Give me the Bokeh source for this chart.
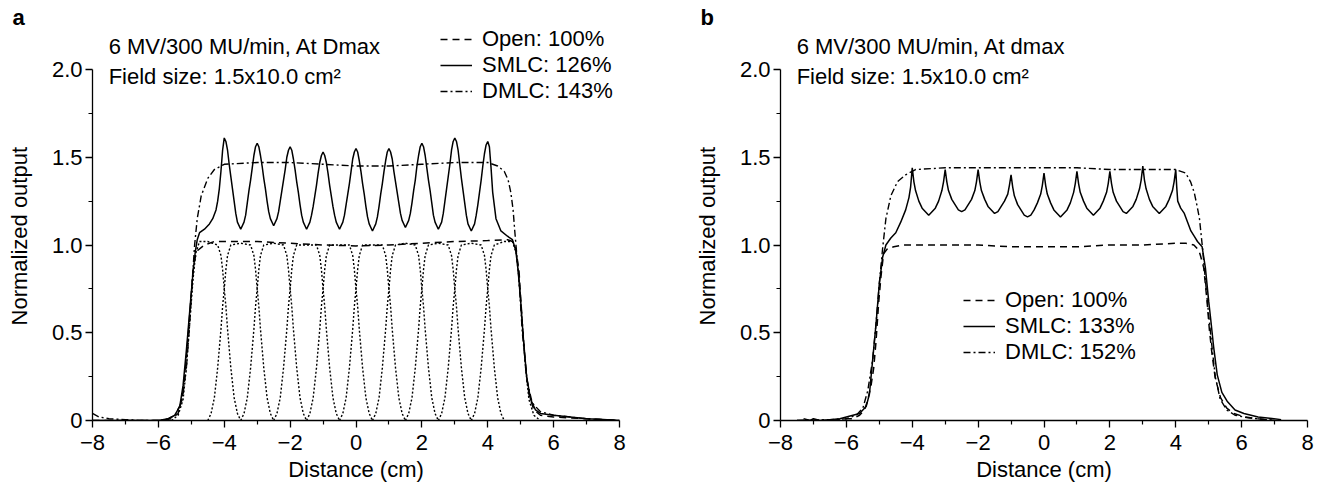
from bokeh.plotting import figure
from bokeh.models import Range1d, FixedTicker, Label, Legend, LegendItem
from bokeh.layouts import row
from bokeh.embed import file_html
from bokeh.resources import INLINE

FONT = "Liberation Sans"

# ---------------- axis ticks ----------------
X_TICKS = [-8, -6, -4, -2, 0, 2, 4, 6, 8]
X_MINOR = [-7, -5, -3, -1, 1, 3, 5, 7]
X_LABELS = ["\u22128", "\u22126", "\u22124", "\u22122", "0", "2", "4", "6", "8"]
Y_TICKS = [0, 0.5, 1.0, 1.5, 2.0]
Y_MINOR = [0.25, 0.75, 1.25, 1.75]
Y_LABELS = ["0", "0.5", "1.0", "1.5", "2.0"]

# ---------------- panel a ----------------
A_OPEN_X = [-8, -7, -6, -5.6, -5.4, -5.25, -5.15, -5.05, -4.95, -4.88,
            -4.8, -4.6, -4.3, -4, -3, -2, -1, 0, 1, 2,
            3, 4, 4.6, 4.75, 4.85, 4.95, 5.05, 5.15, 5.25, 5.4,
            5.6, 6, 7, 8]
A_OPEN_Y = [0, 0, 0, 0.01, 0.04, 0.15, 0.35, 0.6, 0.85, 0.93,
            0.97, 1.0, 1.02, 1.02, 1.02, 1.01, 1.0, 0.995, 1.0, 1.01,
            1.02, 1.025, 1.03, 1.02, 0.98, 0.85, 0.55, 0.3, 0.15, 0.06,
            0.03, 0.02, 0.01, 0]

A_SMLC_X = [-8, -7, -6.5, -6, -5.7, -5.5, -5.35, -5.25, -5.15, -5.05,
            -4.95, -4.88, -4.82, -4.75, -4.6, -4.45, -4.35, -4.25, -4.2, -4.15,
            -4.1, -4.05, -4,
            -3.95, -3.9, -3.85, -3.8, -3.75, -3.7, -3.65, -3.6, -3.5, -3.4, -3.35, -3.3, -3.25, -3.2, -3.15, -3.1, -3.05, -3,
            -2.95, -2.9, -2.85, -2.8, -2.75, -2.7, -2.65, -2.6, -2.5, -2.4, -2.35, -2.3, -2.25, -2.2, -2.15, -2.1, -2.05, -2,
            -1.95, -1.9, -1.85, -1.8, -1.75, -1.7, -1.65, -1.6, -1.5, -1.4, -1.35, -1.3, -1.25, -1.2, -1.15, -1.1, -1.05, -1,
            -0.95, -0.9, -0.85, -0.8, -0.75, -0.7, -0.65, -0.6, -0.5, -0.4, -0.35, -0.3, -0.25, -0.2, -0.15, -0.1, -0.05, 0,
            0.05, 0.1, 0.15, 0.2, 0.25, 0.3, 0.35, 0.4, 0.5, 0.6, 0.65, 0.7, 0.75, 0.8, 0.85, 0.9, 0.95, 1,
            1.05, 1.1, 1.15, 1.2, 1.25, 1.3, 1.35, 1.4, 1.5, 1.6, 1.65, 1.7, 1.75, 1.8, 1.85, 1.9, 1.95, 2,
            2.05, 2.1, 2.15, 2.2, 2.25, 2.3, 2.35, 2.4, 2.5, 2.6, 2.65, 2.7, 2.75, 2.8, 2.85, 2.9, 2.95, 3,
            3.05, 3.1, 3.15, 3.2, 3.25, 3.3, 3.35, 3.4, 3.5, 3.6, 3.65, 3.7, 3.75, 3.8, 3.85, 3.9, 3.95, 4,
            4.05, 4.1, 4.15, 4.25, 4.4, 4.6, 4.75, 4.85, 4.92, 5.0,
            5.08, 5.18, 5.3, 5.45, 5.6, 6, 6.5, 7, 7.5, 8]
A_SMLC_Y = [0, 0, 0, 0, 0.01, 0.03, 0.08, 0.2, 0.4, 0.62,
            0.84, 0.96, 1.03, 1.07, 1.09, 1.12, 1.15, 1.2, 1.25, 1.32,
            1.42, 1.54, 1.61,
            1.59, 1.54, 1.46, 1.39, 1.32, 1.25, 1.18, 1.13, 1.09, 1.13, 1.17, 1.24, 1.31, 1.37, 1.44, 1.51, 1.56, 1.58,
            1.56, 1.51, 1.45, 1.38, 1.32, 1.25, 1.19, 1.15, 1.11, 1.15, 1.19, 1.25, 1.31, 1.37, 1.43, 1.50, 1.54, 1.56,
            1.54, 1.49, 1.43, 1.36, 1.30, 1.23, 1.17, 1.13, 1.09, 1.13, 1.17, 1.22, 1.28, 1.34, 1.41, 1.47, 1.51, 1.53,
            1.51, 1.47, 1.41, 1.34, 1.28, 1.22, 1.17, 1.13, 1.09, 1.13, 1.17, 1.23, 1.29, 1.35, 1.42, 1.49, 1.53, 1.55,
            1.53, 1.48, 1.42, 1.35, 1.29, 1.22, 1.16, 1.12, 1.08, 1.12, 1.16, 1.22, 1.29, 1.35, 1.42, 1.48, 1.53, 1.55,
            1.53, 1.49, 1.42, 1.36, 1.30, 1.24, 1.18, 1.14, 1.10, 1.14, 1.18, 1.24, 1.31, 1.37, 1.45, 1.51, 1.56, 1.58,
            1.56, 1.51, 1.44, 1.37, 1.31, 1.24, 1.17, 1.13, 1.09, 1.13, 1.18, 1.25, 1.32, 1.39, 1.46, 1.54, 1.59, 1.61,
            1.59, 1.54, 1.46, 1.38, 1.31, 1.24, 1.17, 1.12, 1.08, 1.12, 1.17, 1.23, 1.30, 1.37, 1.45, 1.52, 1.57, 1.59,
            1.56, 1.44, 1.30, 1.15, 1.08, 1.05, 1.03, 0.97, 0.86, 0.68,
            0.47, 0.25, 0.12, 0.06, 0.04, 0.03, 0.02, 0.01, 0.005, 0]

A_DMLC_X = [-8, -7.8, -7.5, -7, -6.5, -6, -5.7, -5.5, -5.3, -5.15,
            -5.05, -4.97, -4.9, -4.82, -4.7, -4.5, -4.3, -4, -3, -2,
            -1, 0, 1, 2, 3, 4, 4.3, 4.5, 4.62, 4.7,
            4.77, 4.82, 4.88, 4.95, 5.05, 5.2, 5.35, 5.6, 6, 7,
            8]
A_DMLC_Y = [0.04, 0.02, 0.01, 0.005, 0, 0, 0.01, 0.03, 0.1, 0.3,
            0.55, 0.8, 1.0, 1.15, 1.28, 1.38, 1.43, 1.46, 1.47, 1.47,
            1.46, 1.45, 1.45, 1.46, 1.47, 1.47, 1.45, 1.42, 1.37, 1.3,
            1.2, 1.08, 0.95, 0.8, 0.5, 0.22, 0.1, 0.05, 0.03, 0.01,
            0]

# individual 1 cm segment profiles (dotted)
A_SEG_X = [
    [-5.6, -5.4, -5.25, -5.15, -5.05, -4.95, -4.87, -4.75, -4.5, -4.2, -4.1, -4.05, -4, -3.95, -3.9, -3.8, -3.7, -3.6, -3.5],
    [-4.5, -4.4, -4.3, -4.2, -4.1, -4.05, -4, -3.95, -3.9, -3.8, -3.5, -3.2, -3.1, -3.05, -3, -2.95, -2.9, -2.8, -2.7, -2.6, -2.5],
    [-3.5, -3.4, -3.3, -3.2, -3.1, -3.05, -3, -2.95, -2.9, -2.8, -2.5, -2.2, -2.1, -2.05, -2, -1.95, -1.9, -1.8, -1.7, -1.6, -1.5],
    [-2.5, -2.4, -2.3, -2.2, -2.1, -2.05, -2, -1.95, -1.9, -1.8, -1.5, -1.2, -1.1, -1.05, -1, -0.95, -0.9, -0.8, -0.7, -0.6, -0.5],
    [-1.5, -1.4, -1.3, -1.2, -1.1, -1.05, -1, -0.95, -0.9, -0.8, -0.5, -0.2, -0.1, -0.05, 0, 0.05, 0.1, 0.2, 0.3, 0.4, 0.5],
    [-0.5, -0.4, -0.3, -0.2, -0.1, -0.05, 0, 0.05, 0.1, 0.2, 0.5, 0.8, 0.9, 0.95, 1, 1.05, 1.1, 1.2, 1.3, 1.4, 1.5],
    [0.5, 0.6, 0.7, 0.8, 0.9, 0.95, 1, 1.05, 1.1, 1.2, 1.5, 1.8, 1.9, 1.95, 2, 2.05, 2.1, 2.2, 2.3, 2.4, 2.5],
    [1.5, 1.6, 1.7, 1.8, 1.9, 1.95, 2, 2.05, 2.1, 2.2, 2.5, 2.8, 2.9, 2.95, 3, 3.05, 3.1, 3.2, 3.3, 3.4, 3.5],
    [2.5, 2.6, 2.7, 2.8, 2.9, 2.95, 3, 3.05, 3.1, 3.2, 3.5, 3.8, 3.9, 3.95, 4, 4.05, 4.1, 4.2, 4.3, 4.4, 4.5],
    [3.5, 3.6, 3.7, 3.8, 3.9, 3.95, 4, 4.05, 4.1, 4.2, 4.5, 4.75, 4.87, 4.95, 5.05, 5.15, 5.25, 5.4, 5.6],
]
A_SEG_Y = [
    [0, 0.03, 0.12, 0.3, 0.55, 0.8, 0.95, 1.02, 1.02, 1.0, 0.94, 0.86, 0.75, 0.65, 0.52, 0.3, 0.13, 0.04, 0],
    [0, 0.04, 0.13, 0.3, 0.52, 0.65, 0.75, 0.86, 0.94, 1.0, 1.01, 1.0, 0.94, 0.86, 0.75, 0.65, 0.52, 0.3, 0.13, 0.04, 0],
    [0, 0.04, 0.13, 0.3, 0.52, 0.65, 0.75, 0.86, 0.94, 1.0, 1.01, 1.0, 0.94, 0.86, 0.75, 0.65, 0.52, 0.3, 0.13, 0.04, 0],
    [0, 0.04, 0.13, 0.3, 0.52, 0.65, 0.75, 0.86, 0.94, 1.0, 1.0, 1.0, 0.94, 0.86, 0.75, 0.65, 0.52, 0.3, 0.13, 0.04, 0],
    [0, 0.04, 0.13, 0.3, 0.52, 0.65, 0.75, 0.86, 0.94, 1.0, 1.0, 1.0, 0.94, 0.86, 0.75, 0.65, 0.52, 0.3, 0.13, 0.04, 0],
    [0, 0.04, 0.13, 0.3, 0.52, 0.65, 0.75, 0.86, 0.94, 1.0, 1.0, 1.0, 0.94, 0.86, 0.75, 0.65, 0.52, 0.3, 0.13, 0.04, 0],
    [0, 0.04, 0.13, 0.3, 0.52, 0.65, 0.75, 0.86, 0.94, 1.0, 1.01, 1.0, 0.94, 0.86, 0.75, 0.65, 0.52, 0.3, 0.13, 0.04, 0],
    [0, 0.04, 0.13, 0.3, 0.52, 0.65, 0.75, 0.86, 0.94, 1.0, 1.01, 1.0, 0.94, 0.86, 0.75, 0.65, 0.52, 0.3, 0.13, 0.04, 0],
    [0, 0.04, 0.13, 0.3, 0.52, 0.65, 0.75, 0.86, 0.94, 1.0, 1.01, 1.0, 0.94, 0.86, 0.75, 0.65, 0.52, 0.3, 0.13, 0.04, 0],
    [0, 0.04, 0.13, 0.3, 0.52, 0.65, 0.75, 0.86, 0.94, 1.0, 1.02, 1.02, 0.95, 0.8, 0.55, 0.3, 0.12, 0.03, 0],
]

# ---------------- panel b ----------------
B_OPEN_X = [-7.5, -6.5, -6, -5.8, -5.6, -5.45, -5.36, -5.25, -5.17, -5.1,
            -5.02, -4.95, -4.87, -4.75, -4.56, -4.3, -3, -2, -1, 0,
            1, 2, 3, 4, 4.3, 4.55, 4.7, 4.75, 4.85, 4.95,
            5.02, 5.1, 5.2, 5.36, 5.55, 5.76, 6.1, 6.5, 7]
B_OPEN_Y = [0, 0, 0.01, 0.01, 0.03, 0.06, 0.11, 0.2, 0.3, 0.45,
            0.67, 0.82, 0.95, 0.98, 0.99, 1.0, 1.0, 1.0, 0.99, 0.99,
            0.99, 1.0, 1.0, 1.01, 1.01, 1.0, 0.97, 0.94, 0.87, 0.68,
            0.52, 0.38, 0.24, 0.13, 0.07, 0.04, 0.02, 0.01, 0]

B_SMLC_X = [-7.3, -7.1, -7, -6.8, -6.5, -6.2, -6, -5.8, -5.6, -5.4,
            -5.3, -5.2, -5.1, -5.0, -4.9, -4.8, -4.65, -4.5, -4.35, -4.2,
            -4.1, -4.05, -4,
            -3.95, -3.9, -3.8, -3.7, -3.6, -3.5, -3.4, -3.3, -3.2, -3.1, -3.05, -3,
            -2.95, -2.9, -2.8, -2.7, -2.6, -2.5, -2.4, -2.3, -2.2, -2.1, -2.05, -2,
            -1.95, -1.9, -1.8, -1.7, -1.6, -1.5, -1.4, -1.3, -1.2, -1.1, -1.05, -1,
            -0.95, -0.9, -0.8, -0.7, -0.6, -0.5, -0.4, -0.3, -0.2, -0.1, -0.05, 0,
            0.05, 0.1, 0.2, 0.3, 0.4, 0.5, 0.6, 0.7, 0.8, 0.9, 0.95, 1,
            1.05, 1.1, 1.2, 1.3, 1.4, 1.5, 1.6, 1.7, 1.8, 1.9, 1.95, 2,
            2.05, 2.1, 2.2, 2.3, 2.4, 2.5, 2.6, 2.7, 2.8, 2.9, 2.95, 3,
            3.05, 3.1, 3.2, 3.3, 3.4, 3.5, 3.6, 3.7, 3.8, 3.9, 3.95, 4,
            4.03, 4.06, 4.15, 4.26, 4.36, 4.46, 4.56, 4.66, 4.8, 4.9,
            5.0, 5.06, 5.15, 5.26, 5.4, 5.56, 5.8, 6.07, 6.5, 6.98,
            7.2]
B_SMLC_Y = [0.01, 0, 0.01, 0, 0.005, 0.01, 0.02, 0.03, 0.04, 0.08,
            0.15, 0.35, 0.55, 0.78, 0.93, 1.0, 1.04, 1.07, 1.13, 1.2,
            1.27, 1.33, 1.44,
            1.36, 1.31, 1.25, 1.21, 1.19, 1.17, 1.19, 1.21, 1.25, 1.31, 1.36, 1.43,
            1.36, 1.31, 1.26, 1.23, 1.20, 1.19, 1.20, 1.23, 1.26, 1.31, 1.36, 1.43,
            1.36, 1.31, 1.26, 1.22, 1.20, 1.18, 1.19, 1.22, 1.25, 1.29, 1.34, 1.40,
            1.33, 1.28, 1.23, 1.20, 1.17, 1.16, 1.17, 1.20, 1.24, 1.29, 1.34, 1.41,
            1.34, 1.29, 1.24, 1.20, 1.18, 1.16, 1.18, 1.20, 1.24, 1.30, 1.35, 1.42,
            1.35, 1.30, 1.25, 1.21, 1.19, 1.17, 1.19, 1.21, 1.25, 1.30, 1.35, 1.42,
            1.35, 1.30, 1.25, 1.22, 1.19, 1.18, 1.20, 1.22, 1.26, 1.32, 1.37, 1.45,
            1.37, 1.32, 1.26, 1.22, 1.20, 1.18, 1.20, 1.22, 1.26, 1.31, 1.36, 1.43,
            1.33, 1.25, 1.21, 1.18, 1.13, 1.08, 1.05, 1.02, 0.99, 0.87,
            0.68, 0.58, 0.42, 0.26, 0.16, 0.11, 0.06, 0.04, 0.02, 0.01,
            0.005]

B_DMLC_X = [-7.5, -6.5, -6, -5.7, -5.5, -5.35, -5.2, -5.1, -5.0, -4.9,
            -4.8, -4.65, -4.45, -4.2, -3.9, -3, -2, -1, 0, 1,
            2, 3, 4, 4.3, 4.45, 4.56, 4.65, 4.72, 4.82, 4.9,
            5.0, 5.1, 5.2, 5.35, 5.55, 5.8, 6.2, 7]
B_DMLC_Y = [0, 0.005, 0.01, 0.03, 0.07, 0.17, 0.35, 0.55, 0.78, 0.98,
            1.15, 1.28, 1.36, 1.4, 1.43, 1.44, 1.44, 1.44, 1.44, 1.44,
            1.43, 1.43, 1.43, 1.41, 1.36, 1.3, 1.22, 1.15, 0.97, 0.8,
            0.6, 0.42, 0.25, 0.12, 0.06, 0.03, 0.015, 0]

A_LEGEND = ["Open: 100%", "SMLC: 126%", "DMLC: 143%"]
B_LEGEND = ["Open: 100%", "SMLC: 133%", "DMLC: 152%"]
A_NOTES = ["6 MV/300 MU/min, At Dmax", "Field size: 1.5x10.0 cm\u00b2"]
B_NOTES = ["6 MV/300 MU/min, At dmax", "Field size: 1.5x10.0 cm\u00b2"]

# ---------------- styling ----------------
PX_PER_UNIT_Y = 175.5
FRAME_BOTTOM = 420
FRAME_TOP = 27
Y_TOP = (FRAME_BOTTOM - FRAME_TOP) / PX_PER_UNIT_Y
OPEN_DASH = "7 5"
DMLC_DASH = "7 3 2 3"
DOT_DASH = "2 2"
TXT = "22px"
NBSP = "\u00a0"


def make_panel(width, border_left, border_right, letter, notes, open_xy, smlc_xy,
               dmlc_xy, legend_labels, legend_loc, segs=None):
    p = figure(width=width, height=488, x_range=Range1d(-8, 8),
               y_range=Range1d(0, Y_TOP), output_backend="svg",
               toolbar_location=None, min_border_left=border_left,
               min_border_right=border_right, min_border_top=FRAME_TOP,
               min_border_bottom=488 - FRAME_BOTTOM)
    p.outline_line_color = None
    p.background_fill_color = "white"
    p.border_fill_color = "white"
    p.xgrid.visible = False
    p.ygrid.visible = False

    # panel letter as the figure title, pushed left over the axis area
    p.title.text = letter
    p.title.align = "left"
    p.title.offset = -80
    p.title.standoff = -5
    p.title.vertical_align = "bottom"
    p.title.text_font = FONT
    p.title.text_font_size = "22px"
    p.title.text_font_style = "bold"
    p.title.text_color = "black"

    xa = p.xaxis[0]
    xa.ticker = FixedTicker(ticks=X_TICKS, minor_ticks=X_MINOR)
    xa.major_label_overrides = {t: l for t, l in zip(X_TICKS, X_LABELS)}
    xa.bounds = (-8, 8)
    xa.axis_label = "Distance (cm)"
    ya = p.yaxis[0]
    ya.ticker = FixedTicker(ticks=Y_TICKS, minor_ticks=Y_MINOR)
    ya.major_label_overrides = {t: l for t, l in zip(Y_TICKS, Y_LABELS)}
    ya.bounds = (0, 2)
    # trailing no-break spaces centre the visible label on the 0-2 axis line
    ya.axis_label = "Normalized output" + NBSP * 4
    for ax in (xa, ya):
        ax.axis_line_width = 1.3
        ax.axis_line_color = "black"
        ax.major_tick_line_color = "black"
        ax.minor_tick_line_color = "black"
        ax.major_tick_line_width = 1.3
        ax.minor_tick_line_width = 1.2
        ax.major_tick_out = 7
        ax.major_tick_in = 0
        ax.minor_tick_out = 4
        ax.minor_tick_in = 0
        ax.major_label_text_font = FONT
        ax.major_label_text_font_size = "22px"
        ax.major_label_text_color = "black"
        ax.axis_label_text_font = FONT
        ax.axis_label_text_font_size = TXT
        ax.axis_label_text_font_style = "normal"
        ax.axis_label_text_color = "black"
    xa.major_label_standoff = 7
    xa.axis_label_standoff = 4
    ya.major_label_standoff = 3
    ya.axis_label_standoff = 17

    if segs is not None:
        for sx, sy in zip(*segs):
            p.line(sx, sy, line_color="black", line_width=1.4, line_dash=DOT_DASH)

    r_open = p.line(open_xy[0], open_xy[1], line_color="black", line_width=1.5,
                    line_dash=OPEN_DASH)
    r_smlc = p.line(smlc_xy[0], smlc_xy[1], line_color="black", line_width=1.5)
    r_dmlc = p.line(dmlc_xy[0], dmlc_xy[1], line_color="black", line_width=1.4,
                    line_dash=DMLC_DASH)

    legend = Legend(items=[LegendItem(label=legend_labels[0], renderers=[r_open]),
                           LegendItem(label=legend_labels[1], renderers=[r_smlc]),
                           LegendItem(label=legend_labels[2], renderers=[r_dmlc])],
                    location=legend_loc)
    legend.label_text_font = FONT
    legend.label_text_font_size = TXT
    legend.label_text_color = "black"
    legend.glyph_width = 32
    legend.glyph_height = 20
    legend.label_height = 20
    legend.label_standoff = 10
    legend.spacing = -4
    legend.padding = 0
    legend.margin = 0
    legend.border_line_color = None
    legend.background_fill_alpha = 0
    p.add_layout(legend)

    p.add_layout(Label(x=-7.51, y=(FRAME_BOTTOM - 45.5) / PX_PER_UNIT_Y, text=notes[0],
                       text_font=FONT, text_font_size=TXT,
                       text_baseline="alphabetic", text_color="black"))
    p.add_layout(Label(x=-7.51, y=(FRAME_BOTTOM - 75.5) / PX_PER_UNIT_Y, text=notes[1],
                       text_font=FONT, text_font_size=TXT,
                       text_baseline="alphabetic", text_color="black"))
    return p


pa = make_panel(661, 92, 42, "a", A_NOTES, (A_OPEN_X, A_OPEN_Y), (A_SMLC_X, A_SMLC_Y),
                (A_DMLC_X, A_DMLC_Y), A_LEGEND, (348, 316), segs=(A_SEG_X, A_SEG_Y))
pb = make_panel(662, 119, 16, "b", B_NOTES, (B_OPEN_X, B_OPEN_Y), (B_SMLC_X, B_SMLC_Y),
                (B_DMLC_X, B_DMLC_Y), B_LEGEND, (183, 55))

layout = row(pa, pb)
open("out.html", "w").write(file_html(layout, INLINE))
